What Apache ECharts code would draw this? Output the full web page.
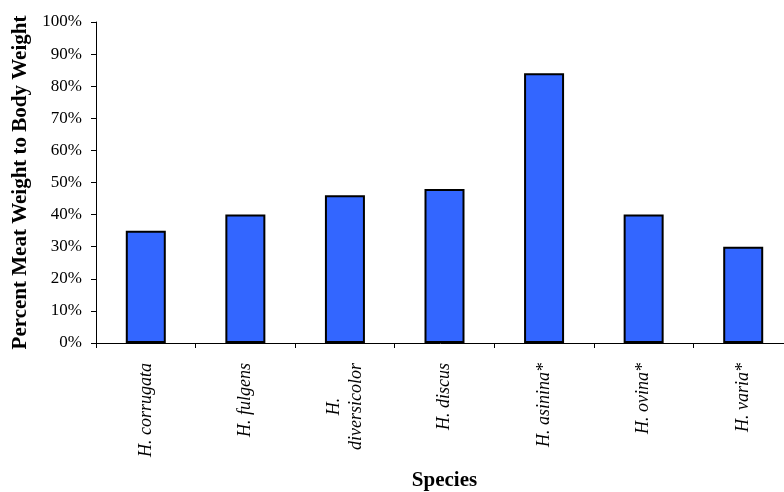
<!DOCTYPE html>
<html>
<head>
<meta charset="utf-8">
<script src="https://cdn.jsdelivr.net/npm/echarts@6/dist/echarts.min.js"></script>
<style>
  html, body { margin: 0; padding: 0; background: #fff; }
  #chart { width: 784px; height: 492px; }
</style>
</head>
<body>
<div id="chart"></div>
<script>
// Abalone species and their meat-to-body weight ratio (%)
const species = ['H. corrugata', 'H. fulgens', 'H.\ndiversicolor', 'H. discus', 'H. asinina*', 'H. ovina*', 'H. varia*'];
const meatPercent = [35, 40, 46, 48, 84, 40, 30];
const yTicks = [0, 10, 20, 30, 40, 50, 60, 70, 80, 90, 100];

const serif = '"Liberation Serif", "Times New Roman", serif';

const chart = echarts.init(document.getElementById('chart'), null, { renderer: 'canvas' });

chart.setOption({
  animation: false,
  backgroundColor: '#ffffff',
  grid: { left: 96, top: 22, bottom: 149, width: 697, containLabel: false, outerBoundsMode: 'none' },
  xAxis: {
    type: 'category',
    data: species,
    name: 'Species',
    nameLocation: 'middle',
    nameGap: 127,
    nameTextStyle: { fontFamily: serif, fontWeight: 'bold', fontSize: 21, color: '#000' },
    axisLine: { lineStyle: { color: '#000', width: 1 } },
    axisTick: { show: true, length: 5, alignWithLabel: false, lineStyle: { color: '#000' } },
    axisLabel: {
      rotate: 90,
      margin: 20,
      interval: 0,
      fontFamily: serif,
      fontStyle: 'italic',
      fontSize: 18,
      color: '#000',
      lineHeight: 22,
      formatter: function (v) {
        return v.split('\n').map(function (s) { return '{c|' + s + '}'; }).join('\n');
      },
      rich: { c: { align: 'center', fontFamily: serif, fontStyle: 'italic', fontSize: 18, color: '#000', lineHeight: 22 } }
    },
    splitLine: { show: false }
  },
  yAxis: {
    type: 'value',
    min: yTicks[0],
    max: yTicks[yTicks.length - 1],
    interval: yTicks[1] - yTicks[0],
    name: 'Percent Meat Weight to Body Weight',
    nameLocation: 'middle',
    nameRotate: 90,
    nameGap: 63,
    nameTextStyle: { fontFamily: serif, fontWeight: 'bold', fontSize: 21, color: '#000' },
    axisLine: { show: true, lineStyle: { color: '#000', width: 1 } },
    axisTick: { show: true, length: 5, inside: false, lineStyle: { color: '#000' } },
    axisLabel: {
      margin: 14,
      fontFamily: serif,
      fontSize: 17,
      color: '#000',
      formatter: '{value}%'
    },
    splitLine: { show: false }
  },
  series: [{
    type: 'bar',
    data: meatPercent,
    barWidth: 40,
    itemStyle: { color: '#3366ff', borderColor: '#000', borderWidth: 2 }
  }]
});
</script>
</body>
</html>
